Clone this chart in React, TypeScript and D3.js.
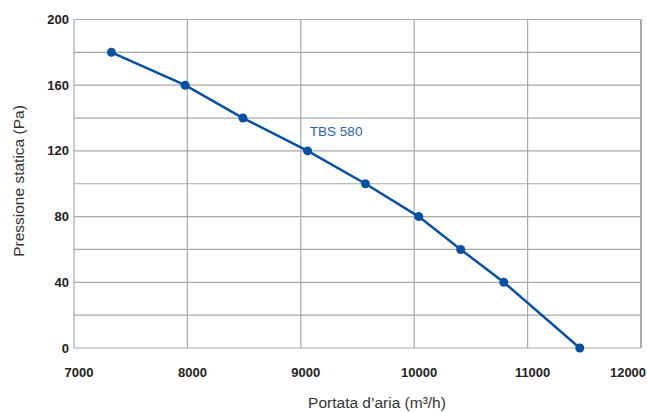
import { useEffect, useRef } from 'react';
import * as d3 from 'd3';

// dati
const portata = [7330, 7980, 8490, 9060, 9570, 10040, 10410, 10790, 11460];
const pressione = [180, 160, 140, 120, 100, 80, 60, 40, 0];
const xTicks = [7000, 8000, 9000, 10000, 11000, 12000];
const yTicks = [0, 40, 80, 120, 160, 200];
const yGrid = [0, 20, 40, 60, 80, 100, 120, 140, 160, 180, 200];
const serieLabel = 'TBS 580';

const App = () => {
  const svgRef = useRef(null);

  useEffect(() => {
    const svg = d3.select(svgRef.current);
    svg.selectAll('*').remove();

    const width = 647;
    const height = 412;
    const margin = { top: 19.5, right: 6, bottom: 64, left: 74 };
    const font = '"Liberation Sans", Arial, sans-serif';

    const x = d3
      .scaleLinear()
      .domain([7000, 12000])
      .range([margin.left, width - margin.right]);
    const y = d3
      .scaleLinear()
      .domain([0, 200])
      .range([height - margin.bottom, margin.top]);

    // griglia
    const grid = svg.append('g').attr('stroke', '#a9a9a9').attr('stroke-width', 1.2);
    grid
      .selectAll('line.h')
      .data(yGrid)
      .enter()
      .append('line')
      .attr('x1', margin.left)
      .attr('x2', width - margin.right)
      .attr('y1', (d) => y(d))
      .attr('y2', (d) => y(d));
    grid
      .selectAll('line.v')
      .data(xTicks)
      .enter()
      .append('line')
      .attr('x1', (d) => x(d))
      .attr('x2', (d) => x(d))
      .attr('y1', margin.top)
      .attr('y2', height - margin.bottom)
      .attr('stroke-width', (d) => (d === 12000 ? 2 : 1.2));

    // etichette assi
    svg
      .append('g')
      .selectAll('text')
      .data(yTicks)
      .enter()
      .append('text')
      .attr('x', margin.left - 5)
      .attr('y', (d) => y(d))
      .attr('dy', '0.35em')
      .attr('text-anchor', 'end')
      .attr('font-family', font)
      .attr('font-weight', 'bold')
      .attr('font-size', 13)
      .attr('fill', '#222')
      .text((d) => d);

    svg
      .append('g')
      .selectAll('text')
      .data(xTicks)
      .enter()
      .append('text')
      .attr('x', (d) => x(d) + (d === 12000 ? -13 : 5))
      .attr('y', 372)
      .attr('dy', '0.35em')
      .attr('text-anchor', 'middle')
      .attr('font-family', font)
      .attr('font-weight', 'bold')
      .attr('font-size', 13)
      .attr('fill', '#222')
      .text((d) => d);

    svg
      .append('text')
      .attr('x', 377)
      .attr('y', 403)
      .attr('dy', '0.35em')
      .attr('text-anchor', 'middle')
      .attr('font-family', font)
      .attr('font-size', 15.5)
      .attr('fill', '#333')
      .text('Portata d\u2019aria (m\u00b3/h)');

    svg
      .append('text')
      .attr('transform', 'translate(19,181) rotate(-90)')
      .attr('dy', '0.35em')
      .attr('text-anchor', 'middle')
      .attr('font-family', font)
      .attr('font-size', 15.5)
      .attr('fill', '#333')
      .text('Pressione statica (Pa)');

    // curva
    const pts = portata.map((p, i) => [p, pressione[i]] as [number, number]);
    const line = d3
      .line<[number, number]>()
      .x((d) => x(d[0]))
      .y((d) => y(d[1]));

    svg
      .append('path')
      .datum(pts)
      .attr('d', line)
      .attr('fill', 'none')
      .attr('stroke', '#0a50a0')
      .attr('stroke-width', 2.5);

    svg
      .append('g')
      .selectAll('circle')
      .data(pts)
      .enter()
      .append('circle')
      .attr('cx', (d) => x(d[0]))
      .attr('cy', (d) => y(d[1]))
      .attr('r', 4.5)
      .attr('fill', '#0a50a0');

    svg
      .append('text')
      .attr('x', x(9080))
      .attr('y', y(132))
      .attr('dy', '0.35em')
      .attr('font-family', font)
      .attr('font-size', 13.5)
      .attr('fill', '#2a63b0')
      .text(serieLabel);
  }, []);

  return <svg ref={svgRef} width={647} height={412} style={{ display: 'block', position: 'absolute', left: 0, top: 0 }}></svg>;
};

export default App;
